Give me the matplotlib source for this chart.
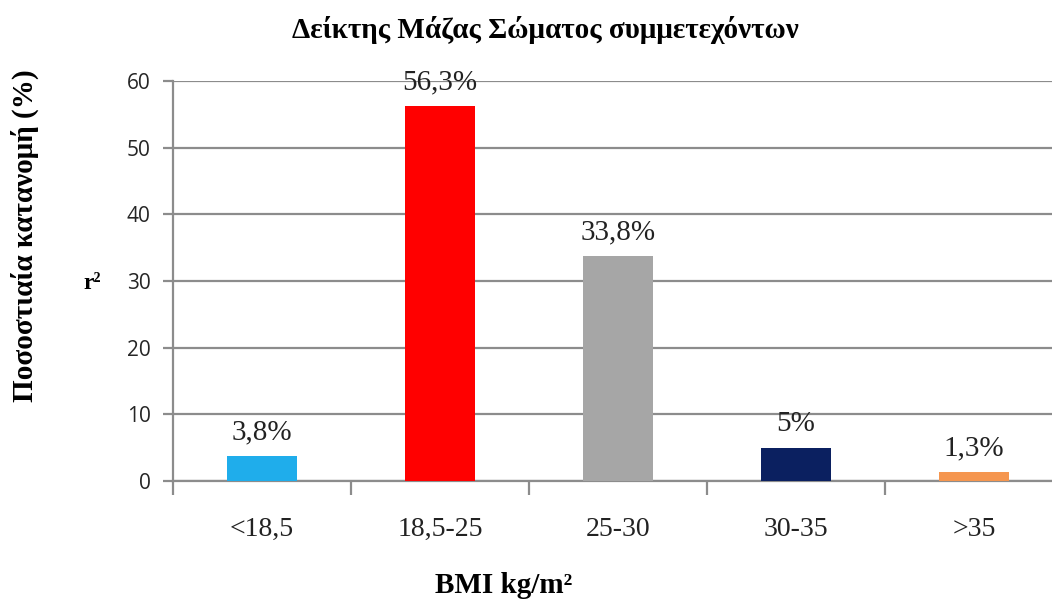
import numpy as np
import matplotlib
matplotlib.use("Agg")
import matplotlib.pyplot as plt

# data
categories = ["<18,5", "18,5-25", "25-30", "30-35", ">35"]
values = [3.8, 56.3, 33.8, 5.0, 1.3]
value_labels = ["3,8%", "56,3%", "33,8%", "5%", "1,3%"]
colors = ["#1FADEB", "#FF0000", "#A6A6A6", "#0B2060", "#F5964F"]
yticks = [0, 10, 20, 30, 40, 50, 60]

serif = "Liberation Serif"

fig = plt.figure(figsize=(10.52, 6.05), dpi=100)
ax = fig.add_axes([0.1645, 0.205, 0.846, 0.6612])

x = np.arange(len(categories))
ax.bar(x, values, width=0.39, color=colors, zorder=3)

for xi, v, lab in zip(x, values, value_labels):
    ax.text(xi, v + 1.6, lab, ha="center", va="bottom", fontsize=21,
            family=serif, color="#222222")

ax.set_xlim(-0.5, 4.5)
ax.set_ylim(0, 60)
ax.set_yticks(yticks)
ax.set_yticklabels([str(t) for t in yticks], fontsize=15, family="Open Sans", color="#262626")
ax.yaxis.grid(True, color="#8C8C8C", linewidth=1.6, zorder=0)

ax.set_xticks(x)
ax.set_xticklabels(categories, fontsize=20, family=serif, color="#222222")
ax.set_xticks(np.arange(-0.5, 5.0, 1.0), minor=True)
ax.tick_params(axis="x", which="major", length=0, pad=26)
ax.tick_params(axis="x", which="minor", length=10, width=1.6, color="#8C8C8C", direction="out")
ax.tick_params(axis="y", length=7, width=1.6, color="#8C8C8C", direction="out", pad=9)

for s in ["top", "right"]:
    ax.spines[s].set_visible(False)
for s in ["left", "bottom"]:
    ax.spines[s].set_color("#8C8C8C")
    ax.spines[s].set_linewidth(1.6)

fig.text(0.518, 0.95, "Δείκτης Μάζας Σώματος συμμετεχόντων", ha="center", va="center",
         fontsize=21, fontweight="bold", family=serif)
fig.text(0.024, 0.61, "Ποσοστιαία κατανομή (%)", ha="center", va="center", rotation=90,
         fontsize=21, fontweight="bold", family=serif)
fig.text(0.088, 0.532, "r²", ha="center", va="center", fontsize=17, fontweight="bold", family=serif)
fig.text(0.479, 0.033, "BMI kg/m²", ha="center", va="center",
         fontsize=21, fontweight="bold", family=serif)

fig.savefig("out.png", dpi=100)
